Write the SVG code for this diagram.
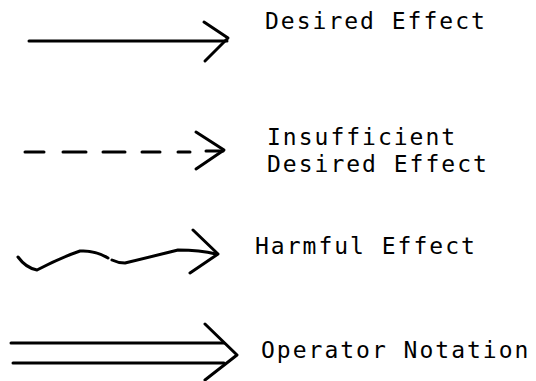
<svg xmlns="http://www.w3.org/2000/svg" width="536" height="381" viewBox="0 0 536 381">
<style>
.ln{fill:none;stroke:#000;stroke-width:3;stroke-linecap:round;stroke-linejoin:round}
.t{font-family:"DejaVu Sans Mono","Liberation Mono",monospace;font-size:23px;letter-spacing:2px;fill:#000}
</style>
<rect width="536" height="381" fill="#fff"/>
<g id="connectors">
<g id="desired">
<path class="ln" d="M29,41 H227"/>
<path class="ln" d="M204,22 L228,38 L205,61"/>
</g>
<g id="insufficient">
<path class="ln" d="M25,152 H44 M63,152 H86 M103,152 H125 M142,152 H160 M178,152 H190 M206,151 H223"/>
<path class="ln" d="M196,132 L224,150 L196,169"/>
</g>
<g id="harmful">
<path class="ln" d="M18,257 Q26,268 37,270 Q60,258 80,251 Q95,250 108,258"/>
<path class="ln" d="M112,260 Q118,263 125,263 Q150,257 178,250 Q200,250 216,254"/>
<path class="ln" d="M193,230 L218,254 L190,273"/>
</g>
<g id="operator">
<path class="ln" d="M11,343 H224 M13,363 H224"/>
<path class="ln" d="M205,324 L237,355 L205,380"/>
</g>
</g>
<g id="labels">
<text class="t" x="265" y="29">Desired Effect</text>
<text class="t" x="267" y="145">Insufficient</text>
<text class="t" x="267" y="172">Desired Effect</text>
<text class="t" x="255" y="254">Harmful Effect</text>
<text class="t" x="261" y="358">Operator Notation</text>
</g>
</svg>
